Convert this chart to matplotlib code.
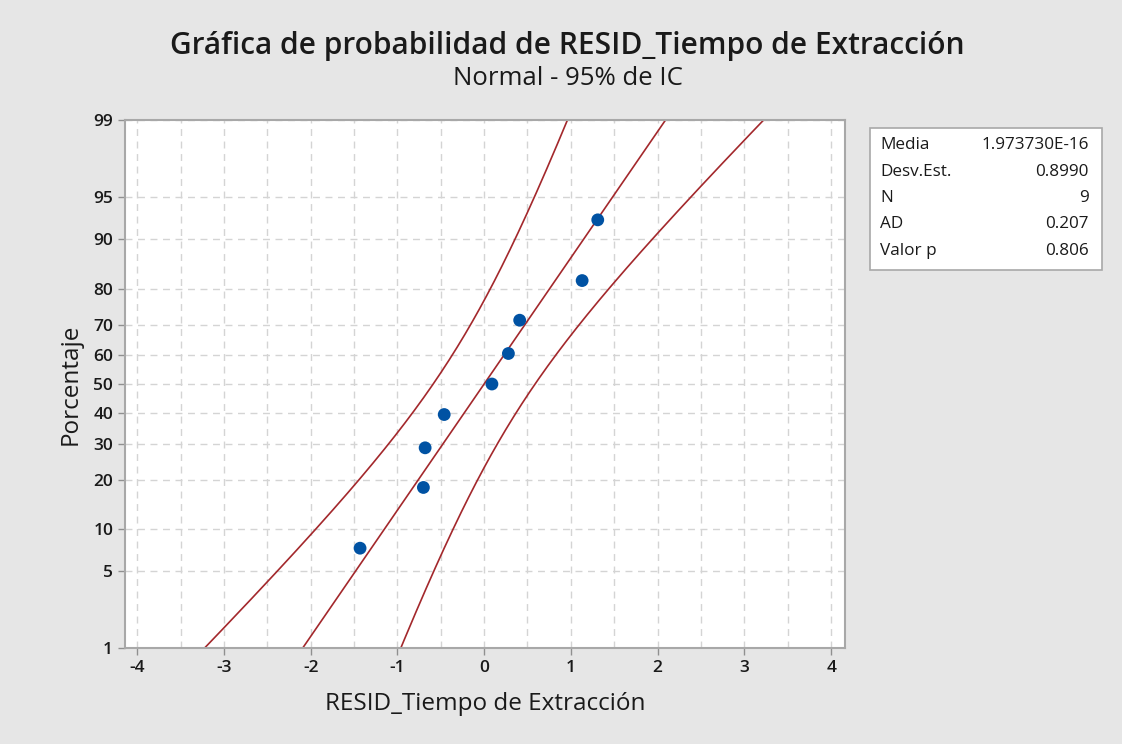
import numpy as np
import matplotlib
matplotlib.use("Agg")
import matplotlib.pyplot as plt
from matplotlib.patches import Rectangle
from statistics import NormalDist

# ---- data ----
resid = [-1.43, -0.70, -0.68, -0.46, 0.09, 0.28, 0.41, 1.13, 1.31]
pct = [7.4, 18.1, 28.7, 39.4, 50.0, 60.6, 71.3, 81.9, 92.6]
media = 1.973730e-16
desv_est = 0.8990
n_obs = 9
ad_stat = 0.207
p_value = 0.806
y_ticks = [1, 5, 10, 20, 30, 40, 50, 60, 70, 80, 90, 95, 99]
x_ticks = [-4, -3, -2, -1, 0, 1, 2, 3, 4]

stat_labels = ["Media", "Desv.Est.", "N", "AD", "Valor p"]
stat_values = ["1.973730E-16", f"{desv_est:.4f}", f"{n_obs}", f"{ad_stat:.3f}", f"{p_value:.3f}"]

plt.rcParams["font.family"] = ["Open Sans", "DejaVu Sans"]

nd = NormalDist()
def z_of(p):
    return nd.inv_cdf(p / 100.0)

LINE = "#a3282c"
DOT = "#0052a3"
BG = "#e6e6e6"
TXT = "#1a1a1a"

fig = plt.figure(figsize=(11.22, 7.44), dpi=100, facecolor=BG)
ax = fig.add_axes([0.1114, 0.129, 0.6417, 0.7097])
ax.set_facecolor("white")

# fitted line and 95% CI bands in quantile space
zz = np.linspace(z_of(0.01), z_of(99.99), 400)
fit = media + zz * desv_est
half = 1.96 * np.sqrt(desv_est**2 / n_obs + zz**2 * desv_est**2 / (2 * n_obs))
for xs in (fit, fit - half, fit + half):
    ax.plot(xs, zz, color=LINE, lw=1.2)

ax.scatter(resid, [z_of(p) for p in pct], s=85, color=DOT, zorder=5, edgecolors="none")

ax.set_xlim(-4.14, 4.16)
ax.set_ylim(z_of(1), z_of(99))
ax.set_xticks(x_ticks)
ax.set_xticks(np.arange(-4, 4.01, 0.5), minor=True)
ax.set_xticklabels([str(t) for t in x_ticks])
ax.set_yticks([z_of(p) for p in y_ticks])
ax.set_yticklabels([str(p) for p in y_ticks])

ax.grid(True, which="both", axis="x", color="#d4d4d4", ls=(0, (5, 4)), lw=1.0)
ax.grid(True, which="major", axis="y", color="#d4d4d4", ls=(0, (5, 4)), lw=1.0)
ax.set_axisbelow(True)
ax.tick_params(axis="both", which="major", colors="#909090", labelcolor=TXT,
               labelsize=12.5, length=5, width=1, direction="out")
ax.tick_params(axis="x", which="minor", length=0)
for lbl in ax.get_xticklabels() + ax.get_yticklabels():
    lbl.set_fontweight("semibold")
for s in ax.spines.values():
    s.set_color("#a8a8a8")
    s.set_linewidth(1.5)

ax.set_xlabel("RESID_Tiempo de Extracción", fontsize=17.5, color=TXT, labelpad=12)
ax.set_ylabel("Porcentaje", fontsize=17.5, color=TXT, labelpad=8)

fig.text(0.506, 0.938, "Gráfica de probabilidad de RESID_Tiempo de Extracción",
         ha="center", va="center", fontsize=21.5, color=TXT, fontweight="semibold")
fig.text(0.506, 0.894, "Normal - 95% de IC", ha="center", va="center",
         fontsize=18.5, color=TXT)

# statistics box
bx0, by0 = 870 / 1122, 1 - 270 / 744
bw, bh = (1102 - 870) / 1122, (270 - 128) / 744
fig.patches.append(Rectangle((bx0, by0), bw, bh, transform=fig.transFigure,
                             facecolor="white", edgecolor="#a8a8a8", lw=1.2))
for i, (lab, val) in enumerate(zip(stat_labels, stat_values)):
    yy = 1 - (145 + i * 26.5) / 744
    fig.text(bx0 + 10 / 1122, yy, lab, ha="left", va="center", fontsize=12.3, color=TXT)
    fig.text(bx0 + bw - 13 / 1122, yy, val, ha="right", va="center", fontsize=12.3, color=TXT)

fig.savefig("out.png", dpi=100, facecolor=BG)
